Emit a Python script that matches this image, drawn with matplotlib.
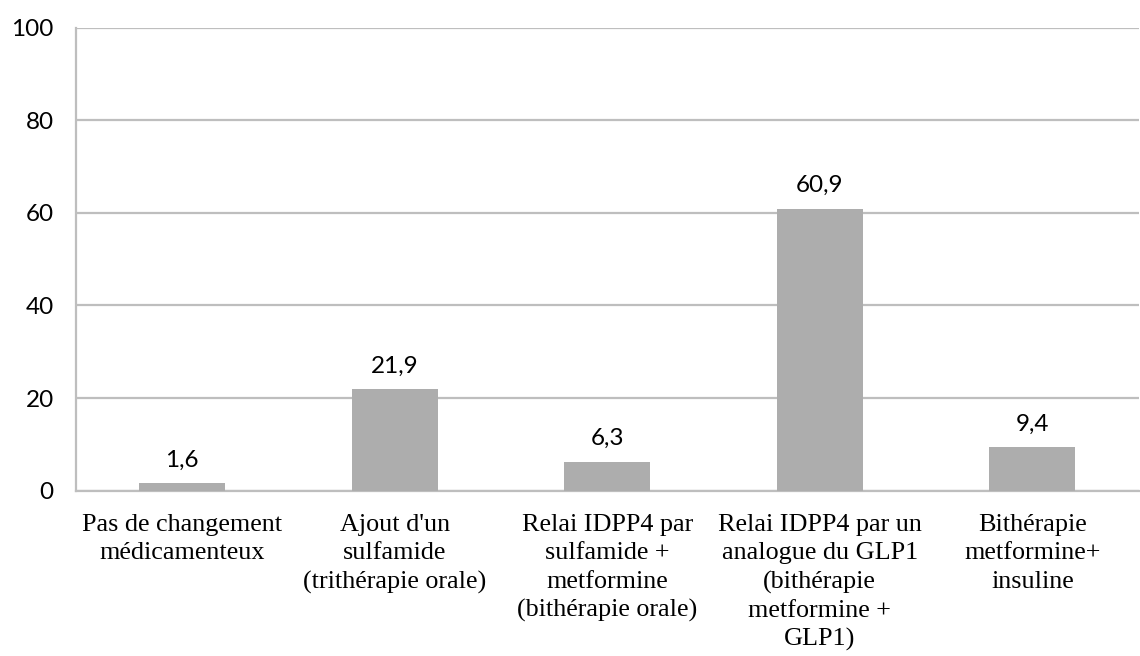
import matplotlib.pyplot as plt
import numpy as np

categories = ["Pas de changement\nmédicamenteux",
              "Ajout d'un\nsulfamide\n(trithérapie orale)",
              "Relai IDPP4 par\nsulfamide +\nmetformine\n(bithérapie orale)",
              "Relai IDPP4 par un\nanalogue du GLP1\n(bithérapie\nmetformine +\nGLP1)",
              "Bithérapie\nmetformine+\ninsuline"]
values = [1.6, 21.9, 6.3, 60.9, 9.4]
yticks = [0, 20, 40, 60, 80, 100]

bar_color = "#ADADAD"
grid_color = "#BEBEBE"

fig = plt.figure(figsize=(11.4, 6.56), dpi=100)
ax = fig.add_axes([0.0667, 0.252, 0.932, 0.706])

x = np.arange(len(values))
bars = ax.bar(x, values, width=0.405, color=bar_color, zorder=3)

for xi, v in zip(x, values):
    ax.annotate(f"{v:.1f}".replace(".", ","), (xi, v), xytext=(0, 9),
                textcoords="offset points", ha="center", va="bottom",
                fontsize=17.5, family="Lato", color="#000000")

ax.set_xlim(-0.5, len(values) - 0.5)
ax.set_ylim(0, 100)
ax.set_yticks(yticks)
ax.set_yticklabels([str(t) for t in yticks], fontsize=17.5, family="Lato")
ax.set_xticks(x)
ax.set_xticklabels(categories, fontsize=18.8, family="Liberation Serif",
                   linespacing=1.36)
ax.tick_params(axis="both", length=0)
ax.tick_params(axis="y", pad=16)
ax.tick_params(axis="x", pad=17)

ax.yaxis.grid(True, color=grid_color, linewidth=1.6, zorder=0)
for s in ["top", "right"]:
    ax.spines[s].set_visible(False)
for s in ["left", "bottom"]:
    ax.spines[s].set_color(grid_color)
    ax.spines[s].set_linewidth(1.6)

fig.savefig("out.png", dpi=100)
